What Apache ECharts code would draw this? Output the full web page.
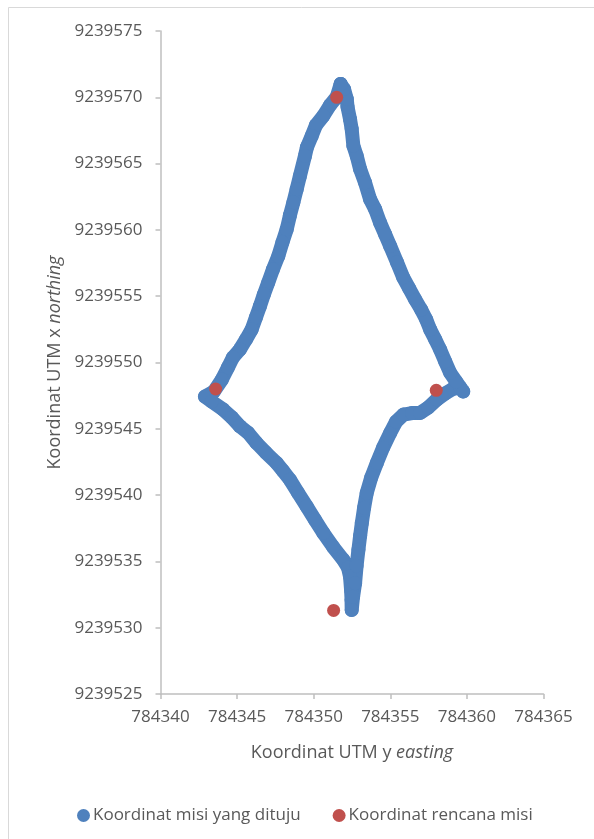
<!DOCTYPE html>
<html>
<head>
<meta charset="utf-8">
<script src="https://cdn.jsdelivr.net/npm/echarts@6/dist/echarts.min.js"></script>
<style>
  html, body { margin: 0; padding: 0; background: #fff; }
  #chart { width: 594px; height: 839px; }
</style>
</head>
<body>
<div id="chart"></div>
<script>
// Flown track (UTM easting / northing, metres)
const trackEasting = [
  784351.76, 784351.50, 784351.07, 784350.63, 784350.15, 784349.87, 784349.56, 784349.43,
  784349.10, 784348.89, 784348.67, 784348.45, 784348.24, 784347.96, 784347.69, 784347.34,
  784347.03, 784346.75, 784346.49, 784346.23, 784345.95, 784345.58, 784345.18, 784344.73,
  784344.40, 784344.01, 784343.48, 784342.90, 784343.35, 784344.09, 784344.66, 784345.18,
  784345.71, 784346.27, 784346.88, 784347.58, 784347.99, 784348.45, 784348.97, 784349.54,
  784350.08, 784350.63, 784351.26, 784351.93, 784352.24, 784352.37, 784352.44, 784352.47,
  784352.48, 784352.57, 784352.70, 784352.80, 784352.92, 784353.03, 784353.14, 784353.29,
  784353.46, 784353.75, 784354.12, 784354.53, 784354.99, 784355.38, 784355.86, 784356.42,
  784356.95, 784357.47, 784358.04, 784358.58, 784359.10, 784359.56, 784359.76, 784359.30,
  784358.91, 784358.58, 784358.25, 784357.93, 784357.60, 784357.34, 784357.01, 784356.62,
  784356.23, 784355.84, 784355.44, 784354.99, 784354.66, 784354.33, 784354.01, 784353.68,
  784353.35, 784353.03, 784352.81, 784352.59, 784352.48, 784352.37, 784352.21, 784352.16,
  784351.98, 784351.76
];
const trackNorthing = [
  9239571.00, 9239570.02, 9239569.41, 9239568.60, 9239567.90, 9239567.09, 9239566.24, 9239565.58,
  9239564.07, 9239563.07, 9239562.06, 9239561.10, 9239560.05, 9239559.06, 9239558.03, 9239557.02,
  9239556.02, 9239555.14, 9239554.25, 9239553.40, 9239552.49, 9239551.74, 9239550.98, 9239550.38,
  9239549.62, 9239548.72, 9239547.81, 9239547.43, 9239547.05, 9239546.45, 9239545.85, 9239545.19,
  9239544.71, 9239543.93, 9239543.20, 9239542.42, 9239541.84, 9239541.16, 9239540.18, 9239539.15,
  9239538.14, 9239537.14, 9239536.10, 9239535.12, 9239534.52, 9239533.86, 9239532.85, 9239532.10,
  9239531.34, 9239532.33, 9239533.36, 9239534.67, 9239535.88, 9239536.93, 9239537.89, 9239539.05,
  9239540.16, 9239541.31, 9239542.42, 9239543.58, 9239544.69, 9239545.54, 9239546.07, 9239546.19,
  9239546.20, 9239546.60, 9239547.21, 9239547.66, 9239548.02, 9239548.11, 9239547.81, 9239548.56,
  9239549.22, 9239550.08, 9239550.98, 9239551.74, 9239552.49, 9239553.25, 9239554.00, 9239554.76,
  9239555.59, 9239556.42, 9239557.55, 9239558.78, 9239559.67, 9239560.55, 9239561.56, 9239562.31,
  9239563.57, 9239564.58, 9239565.58, 9239566.34, 9239567.60, 9239568.35, 9239569.26, 9239569.86,
  9239570.62, 9239571.00
];

// Planned mission waypoints
const planEasting  = [784351.5, 784343.6, 784358.0, 784351.3];
const planNorthing = [9239570.0, 9239548.0, 9239547.9, 9239531.3];

// Axis ranges
const xMin = 784340, xMax = 784365, xStep = 5;
const yMin = 9239525, yMax = 9239575, yStep = 5;

const seriesNames = ['Koordinat misi yang dituju', 'Koordinat rencana misi'];

const trackData = trackEasting.map((e, i) => [e, trackNorthing[i]]);
const planData = planEasting.map((e, i) => [e, planNorthing[i]]);

const FONT = 'Open Sans';
const TXT = '#595959';
const AXIS = '#bfbfbf';

const chart = echarts.init(document.getElementById('chart'), null, { renderer: 'canvas' });
chart.setOption({
  animation: false,
  backgroundColor: '#ffffff',
  textStyle: { fontFamily: FONT },
  graphic: [{
    type: 'rect',
    shape: { x: 8.5, y: 7.5, width: 700, height: 900 },
    style: { fill: 'none', stroke: '#d9d9d9', lineWidth: 1 },
    silent: true
  }],
  grid: { left: 160.5, right: 50.5, top: 31, bottom: 145, containLabel: false },
  xAxis: {
    type: 'value',
    min: xMin, max: xMax, interval: xStep,
    name: '{n|Koordinat UTM y }{i|easting}',
    nameLocation: 'middle',
    nameGap: 50,
    nameTextStyle: {
      rich: {
        n: { fontFamily: FONT, fontSize: 18, color: TXT },
        i: { fontFamily: FONT, fontSize: 18, color: TXT, fontStyle: 'italic' }
      }
    },
    axisLine: { lineStyle: { color: AXIS, width: 1.5 } },
    axisTick: { show: true, inside: false, length: 5, lineStyle: { color: AXIS, width: 1.5 } },
    axisLabel: { color: TXT, fontSize: 17, fontFamily: FONT, margin: 15, formatter: v => String(v) },
    splitLine: { show: false }
  },
  yAxis: {
    type: 'value',
    min: yMin, max: yMax, interval: yStep,
    name: '{n|Koordinat UTM x }{i|northing}',
    nameLocation: 'middle',
    nameGap: 96,
    nameTextStyle: {
      rich: {
        n: { fontFamily: FONT, fontSize: 18, color: TXT },
        i: { fontFamily: FONT, fontSize: 18, color: TXT, fontStyle: 'italic' }
      }
    },
    axisLine: { show: true, lineStyle: { color: AXIS, width: 1.5 } },
    axisTick: { show: true, inside: false, length: 5, lineStyle: { color: AXIS, width: 1.5 } },
    axisLabel: { color: TXT, fontSize: 17, fontFamily: FONT, margin: 18, formatter: v => String(v) },
    splitLine: { show: false }
  },
  legend: {
    left: 72,
    top: 802,
    itemWidth: 13,
    itemHeight: 13,
    itemGap: 32,
    icon: 'circle',
    textStyle: { color: TXT, fontSize: 17, fontFamily: FONT, padding: [0, 0, 0, -2] },
    data: [
      { name: seriesNames[0], icon: 'circle' },
      { name: seriesNames[1], icon: 'circle' }
    ]
  },
  series: [
    {
      name: seriesNames[0],
      type: 'line',
      data: trackData,
      smooth: false,
      showSymbol: true,
      symbol: 'circle',
      symbolSize: 14,
      itemStyle: { color: '#4F81BD', opacity: 1 },
      lineStyle: { color: '#4F81BD', width: 14, cap: 'round', join: 'round', opacity: 1 },
      emphasis: { disabled: true },
      z: 2
    },
    {
      name: seriesNames[1],
      type: 'scatter',
      data: planData,
      symbol: 'circle',
      symbolSize: 13,
      itemStyle: { color: '#C0504D', opacity: 1 },
      emphasis: { disabled: true },
      z: 3
    }
  ]
});
</script>
</body>
</html>
